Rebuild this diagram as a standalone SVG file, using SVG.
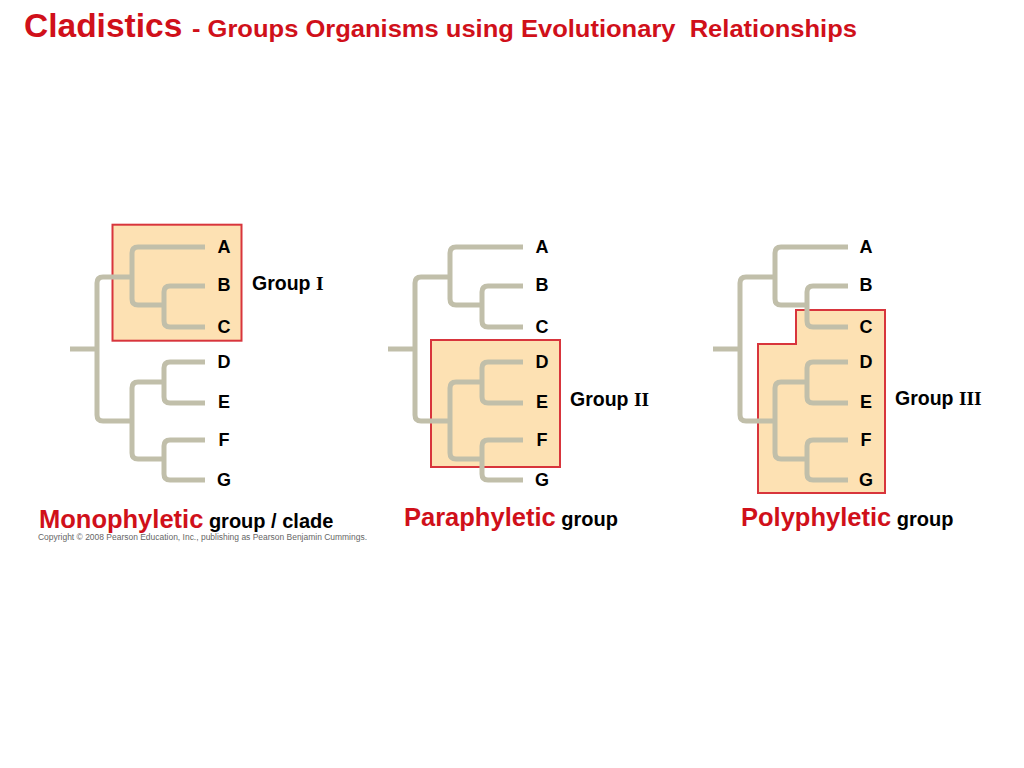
<svg xmlns="http://www.w3.org/2000/svg" width="1024" height="768" viewBox="0 0 1024 768">
<style>
.br{fill:none;stroke:#c1bfaa;stroke-width:5;stroke-linecap:butt;stroke-linejoin:round}
.box{fill:#fde1b3;stroke:#d8353c;stroke-width:2}
.tip{font-family:"Liberation Sans",Arial,sans-serif;font-weight:bold;font-size:18px;fill:#000;text-anchor:middle}
.grp{font-family:"Liberation Sans",Arial,sans-serif;font-weight:bold;font-size:19.5px;fill:#000}
.rom{font-family:"Liberation Serif","Times New Roman",serif;font-weight:bold}
.red{font-family:"Liberation Sans",Arial,sans-serif;font-weight:bold;fill:#d0101a}
.blk{font-family:"Liberation Sans",Arial,sans-serif;font-weight:bold;fill:#000}
</style>
<defs>
<g id="tree">
<path class="br" d="M70,349 H97"/>
<path class="br" d="M132,277 H103 Q97,277 97,283 V415 Q97,421 103,421 H132"/>
<path class="br" d="M205,247 H138 Q132,247 132,253 V299 Q132,305 138,305 H164"/>
<path class="br" d="M205,286 H170 Q164,286 164,292 V321 Q164,327 170,327 H205"/>
<path class="br" d="M164,382 H138 Q132,382 132,388 V453 Q132,459 138,459 H164"/>
<path class="br" d="M205,362 H170 Q164,362 164,368 V397 Q164,403 170,403 H205"/>
<path class="br" d="M205,440 H170 Q164,440 164,446 V474 Q164,480 170,480 H205"/>
</g>
</defs>

<g id="title">
<text x="24" y="37" class="red" font-size="33.5">Cladistics</text>
<text x="192" y="37" class="red" font-size="24.5" style="white-space:pre" textLength="665" lengthAdjust="spacingAndGlyphs">- Groups Organisms using Evolutionary  Relationships</text>
</g>

<!-- group boxes -->
<g id="box-group-I"><rect class="box" x="112.5" y="224.7" width="129" height="116"/></g>
<g id="box-group-II"><rect class="box" x="431" y="340" width="129" height="127"/></g>
<g id="box-group-III"><polygon class="box" points="796,310 885,310 885,493 758,493 758,344 796,344"/></g>

<!-- connectors (tree branches) -->
<g id="connectors">
<use href="#tree"/>
<use href="#tree" transform="translate(318,0)"/>
<use href="#tree" transform="translate(643,0)"/>
</g>

<g id="tips-1">
<text class="tip" x="224" y="253">A</text>
<text class="tip" x="224" y="291">B</text>
<text class="tip" x="224" y="333">C</text>
<text class="tip" x="224" y="368">D</text>
<text class="tip" x="224" y="408">E</text>
<text class="tip" x="224" y="446">F</text>
<text class="tip" x="224" y="486">G</text>
</g>
<g id="tips-2">
<text class="tip" x="542" y="253">A</text>
<text class="tip" x="542" y="291">B</text>
<text class="tip" x="542" y="333">C</text>
<text class="tip" x="542" y="368">D</text>
<text class="tip" x="542" y="408">E</text>
<text class="tip" x="542" y="446">F</text>
<text class="tip" x="542" y="486">G</text>
</g>
<g id="tips-3">
<text class="tip" x="866" y="253">A</text>
<text class="tip" x="866" y="291">B</text>
<text class="tip" x="866" y="333">C</text>
<text class="tip" x="866" y="368">D</text>
<text class="tip" x="866" y="408">E</text>
<text class="tip" x="866" y="446">F</text>
<text class="tip" x="866" y="486">G</text>
</g>

<g id="label-group-I"><text class="grp" x="252" y="290">Group <tspan class="rom">I</tspan></text></g>
<g id="label-group-II"><text class="grp" x="570" y="406">Group <tspan class="rom">II</tspan></text></g>
<g id="label-group-III"><text class="grp" x="895" y="405">Group <tspan class="rom">III</tspan></text></g>

<g id="caption-mono">
<text x="39" y="528"><tspan class="red" font-size="25.5">Monophyletic</tspan><tspan class="blk" font-size="20"> group / clade</tspan></text>
<text x="38" y="540" font-family="'Liberation Sans',Arial,sans-serif" font-size="8.5" fill="#666" textLength="329" lengthAdjust="spacingAndGlyphs">Copyright © 2008 Pearson Education, Inc., publishing as Pearson Benjamin Cummings.</text>
</g>
<g id="caption-para">
<text x="404" y="526"><tspan class="red" font-size="25.5">Paraphyletic</tspan><tspan class="blk" font-size="20"> group</tspan></text>
</g>
<g id="caption-poly">
<text x="741" y="526"><tspan class="red" font-size="25.5">Polyphyletic</tspan><tspan class="blk" font-size="20"> group</tspan></text>
</g>
</svg>
